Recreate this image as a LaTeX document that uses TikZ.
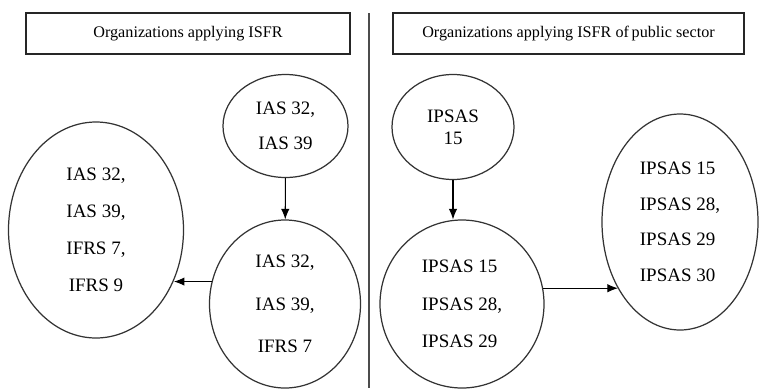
\documentclass[tikz,border=0pt]{standalone}
\usepackage{fontspec}
\setmainfont{Liberation Serif}
\usepackage{tikz}
\usetikzlibrary{shapes.geometric}
\usetikzlibrary{arrows.meta}
\tikzset{>={Latex[width=1.7mm,length=2.1mm]}}
\tikzset{
  titlebox/.style={draw=black!85, line width=0.9pt, minimum height=0.82cm, inner sep=0pt,
    font=\fontsize{9.2}{11}\selectfont},
  stdoval/.style={ellipse, draw=black!80, line width=0.7pt, inner sep=0pt,
    font=\fontsize{10.8}{12.6}\selectfont},
}

\begin{document}
\begin{tikzpicture}[line width=0.6pt]
    \useasboundingbox (0,0) rectangle (15.18,-7.76);
    % headings
    \node[titlebox, minimum width=6.48cm] (ifrs) at (3.76,-0.67) {Organizations applying ISFR};
    \node[titlebox, minimum width=7.02cm] (ipsas) at (11.37,-0.67) {Organizations applying ISFR of\,public sector};
    \coordinate (top) at (7.38,-0.26);
    \coordinate (bottom) at (7.38,-7.76);
    \draw[black!70, line width=1pt] (top) -- (bottom);
    % left side
    \node[stdoval, minimum width=2.5cm, minimum height=2.06cm, align=center] (ias) at (5.71,-2.52) {IAS 32,\\[7.5pt] IAS 39};
    \node[stdoval, minimum width=3.02cm, minimum height=3.36cm, align=center] (iasifrs) at (5.70,-6.08) {IAS 32,\\[11.5pt] IAS 39,\\[11.5pt] IFRS 7};
    \node[stdoval, minimum width=3.5cm, minimum height=4.32cm, align=center] (ifrsnine) at (1.92,-4.60) {IAS 32,\\[8.4pt] IAS 39,\\[8.4pt] IFRS 7,\\[8.4pt] IFRS 9};
    % right side
    \node[stdoval, minimum width=2.44cm, minimum height=2.1cm, align=center] (ip) at (9.06,-2.54) {IPSAS\\ 15};
    \node[stdoval, minimum width=3.28cm, minimum height=3.36cm, align=left] (ipmid) at (9.24,-6.08) {IPSAS 15\\[8.7pt] IPSAS 28,\\[8.7pt] IPSAS 29};
    \node[stdoval, minimum width=3.12cm, minimum height=4.32cm, align=left] (ipall) at (13.6,-4.44) {IPSAS 15\\[7.6pt] IPSAS 28,\\[7.6pt] IPSAS 29\\[7.6pt] IPSAS 30};
    \draw[->] (ias) -- (iasifrs);
    \draw[->] (iasifrs.163) -- (iasifrs.163 -| ifrsnine.-33);
    \draw[->] (ip.south) -- (ip.south |- ipmid.north);
    \draw[->] (ipmid.11) -- (ipmid.11 -| ipall.227);
\end{tikzpicture}
\end{document}
